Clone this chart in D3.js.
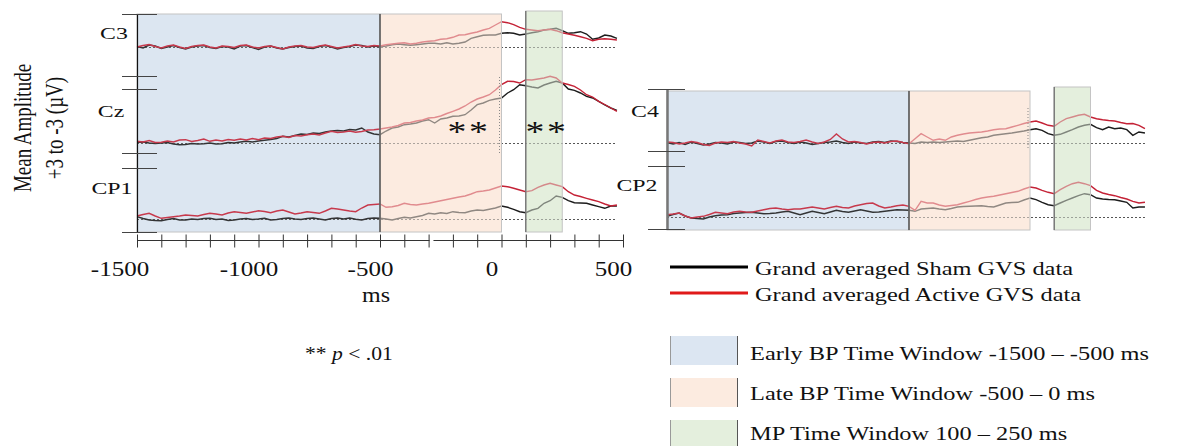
<!DOCTYPE html>
<html>
<head>
<meta charset="utf-8">
<script src="https://cdn.jsdelivr.net/npm/d3@7"></script>
<style>
body { margin: 0; background: #fff; }
text { font-family: "Liberation Serif", "Times New Roman", serif; fill: #111; }
</style>
</head>
<body>
<script>
// sample grid in ms (25 ms steps), one value per step in each series below (µV)
var times = d3.range(-1500, 500, 25);

var c3Active = [0.0, 0.15, 0.25, 0.05, -0.1, 0.1, 0.2, 0.0, -0.15, 0.05, 0.15, 0.2, 0.0, -0.1, 0.1, 0.05, -0.05, 0.15, 0.2, 0.0,
	-0.1, 0.05, 0.1, -0.05, -0.2, 0.0, 0.1, 0.15, 0.0, -0.05, 0.1, 0.2, 0.05, -0.1, 0.0, 0.1, 0.25, 0.1, 0.05, 0.15,
	0.1, 0.23, 0.3, 0.37, 0.43, 0.3, 0.37, 0.5, 0.57, 0.63, 0.77, 0.83, 0.97, 1.2, 1.23, 1.37, 1.5, 1.7, 1.87, 2.2,
	2.53, 2.43, 2.23, 1.97, 1.77, 1.7, 1.63, 1.7, 1.77, 1.63, 1.43, 1.3, 1.17, 1.03, 0.87, 0.63, 0.77, 0.83, 0.77, 0.7];
var c3Sham = [0.05, -0.1, 0.2, 0.1, -0.15, 0.0, 0.15, -0.05, -0.2, 0.0, 0.1, 0.15, -0.05, -0.15, 0.05, 0.0, -0.2, 0.1, 0.15, -0.05,
	-0.25, 0.0, 0.1, -0.1, -0.2, -0.05, 0.05, 0.1, -0.1, -0.15, 0.05, 0.15, 0.0, -0.2, -0.05, 0.05, 0.2, 0.15, 0.0, 0.1,
	0.03, 0.1, 0.23, 0.3, 0.23, 0.17, 0.23, 0.3, 0.37, 0.37, 0.3, 0.43, 0.3, 0.37, 0.5, 0.87, 1.03, 1.17, 1.2, 1.2,
	1.37, 1.43, 1.37, 1.2, 1.3, 1.43, 1.53, 1.7, 1.77, 1.87, 1.63, 1.37, 1.43, 1.53, 1.3, 0.77, 0.9, 1.2, 1.1, 0.87];

var czActive = [0.17, 0.1, 0.25, 0.05, 0.07, 0.2, 0.1, 0.3, 0.33, 0.15, 0.25, 0.4, 0.17, 0.3, 0.2, 0.35, 0.27, 0.4, 0.3, 0.45,
	0.33, 0.5, 0.45, 0.6, 0.67, 0.55, 0.75, 0.7, 0.83, 0.9, 0.8, 1.0, 1.17, 1.05, 1.1, 1.2, 1.07, 1.15, 1.3, 1.33,
	1.4, 1.5, 1.6, 1.75, 2.0, 2.05, 2.2, 2.3, 2.5, 2.55, 2.7, 2.95, 3.17, 3.4, 3.7, 4.1, 4.4, 4.6, 4.83, 5.3,
	5.83, 6.17, 6.15, 6.0, 6.33, 6.3, 6.4, 6.5, 6.67, 6.5, 6.0, 5.85, 5.67, 5.3, 4.83, 4.6, 4.17, 3.85, 3.5, 3.17];
var czSham = [0.07, 0.1, 0.0, -0.05, 0.0, 0.05, -0.1, -0.17, -0.15, -0.05, -0.1, -0.07, 0.0, -0.1, -0.07, 0.05, 0.0, 0.1, 0.17, 0.1,
	0.2, 0.27, 0.35, 0.45, 0.67, 0.6, 0.75, 0.9, 0.85, 1.0, 0.95, 1.1, 1.2, 1.25, 1.2, 1.35, 1.3, 1.5, 1.1, 0.9,
	0.83, 1.2, 1.5, 1.6, 1.83, 1.9, 2.0, 2.2, 2.33, 2.0, 2.4, 2.5, 2.67, 2.7, 2.83, 3.3, 3.83, 4.0, 4.27, 4.4,
	4.5, 5.0, 5.33, 5.83, 5.73, 5.6, 5.5, 5.8, 6.0, 6.17, 6.0, 5.4, 5.27, 5.0, 4.67, 4.5, 4.17, 3.8, 3.5, 3.27];

var cp1Active = [0.3, 0.45, 0.57, 0.3, 0.07, 0.15, 0.23, 0.3, 0.4, 0.35, 0.3, 0.45, 0.57, 0.5, 0.4, 0.6, 0.73, 0.65, 0.57, 0.7,
	0.83, 0.75, 0.63, 0.8, 0.9, 0.7, 0.5, 0.6, 0.73, 0.65, 0.57, 0.8, 1.07, 1.0, 0.9, 0.8, 0.73, 1.1, 1.4, 1.45,
	1.5, 1.17, 1.23, 1.35, 1.57, 1.45, 1.4, 1.5, 1.57, 1.7, 1.83, 1.95, 2.07, 2.2, 2.3, 2.5, 2.73, 2.8, 2.9, 3.1,
	3.3, 3.23, 3.07, 2.9, 2.73, 2.83, 3.17, 3.4, 3.57, 3.4, 3.23, 2.73, 2.4, 2.25, 2.07, 1.9, 1.73, 1.5, 1.3, 1.4];
var cp1Sham = [0.23, 0.05, -0.1, -0.15, -0.17, -0.05, 0.05, -0.1, -0.1, 0.0, -0.05, 0.05, 0.07, -0.05, 0.0, -0.15, -0.1, 0.0, 0.05, -0.05,
	0.0, 0.07, -0.1, -0.05, 0.05, 0.1, 0.0, -0.05, 0.05, 0.1, 0.0, -0.1, 0.05, 0.1, 0.0, 0.1, -0.03, -0.1, 0.05, 0.1,
	0.07, 0.0, -0.1, 0.05, 0.17, 0.1, 0.23, 0.35, 0.57, 0.5, 0.63, 0.55, 0.73, 0.65, 0.63, 0.8, 0.9, 0.85, 0.97, 1.1,
	1.3, 1.17, 0.97, 0.73, 0.63, 0.9, 1.07, 1.57, 1.83, 2.3, 2.17, 1.83, 1.63, 1.6, 1.57, 1.4, 1.23, 1.07, 1.3, 1.3];

var c4Active = [0.1, 0.05, -0.1, 0.0, 0.15, 0.05, -0.15, -0.25, 0.0, 0.1, 0.05, 0.15, 0.0, -0.1, -0.3, 0.3, 0.15, 0.0, 0.2, 0.3,
	0.1, 0.05, 0.15, 0.3, 0.1, -0.05, 0.1, 0.35, 0.9, 0.4, 0.1, 0.15, 0.05, -0.1, 0.05, 0.1, 0.0, 0.15, 0.2, 0.05,
	-0.07, 0.43, 0.93, 0.6, 0.27, 0.4, 0.27, 0.6, 0.77, 0.9, 1.0, 1.05, 1.1, 1.2, 1.33, 1.4, 1.43, 1.6, 1.77, 1.95,
	2.1, 2.2, 2.0, 1.77, 1.67, 2.1, 2.43, 2.6, 2.77, 2.87, 2.6, 2.43, 2.33, 2.25, 2.2, 2.05, 1.93, 1.95, 1.77, 1.43];
var c4Sham = [0.05, -0.1, 0.05, -0.15, 0.1, -0.05, -0.2, -0.1, 0.05, 0.0, -0.1, 0.1, 0.05, -0.05, 0.0, 0.2, 0.1, -0.05, 0.15, 0.2,
	0.05, -0.05, 0.1, 0.0, -0.15, -0.05, 0.05, 0.1, 0.2, 0.05, -0.05, 0.1, 0.0, -0.05, 0.1, 0.15, 0.05, 0.2, 0.15, 0.05,
	0.0, -0.05, 0.1, 0.05, 0.1, 0.05, 0.1, 0.15, 0.2, 0.15, 0.27, 0.4, 0.53, 0.6, 0.77, 0.85, 0.93, 1.0, 1.1, 1.2,
	1.33, 1.43, 1.27, 0.93, 0.77, 0.87, 1.1, 1.33, 1.6, 1.77, 1.87, 1.53, 1.33, 1.6, 1.43, 1.5, 1.33, 0.77, 1.1, 1.0];

var cp2Active = [0.23, 0.3, 0.4, 0.1, -0.1, 0.0, 0.07, 0.25, 0.47, 0.4, 0.33, 0.5, 0.57, 0.5, 0.47, 0.6, 0.73, 0.85, 0.9, 0.8,
	0.73, 0.8, 0.8, 0.9, 1.0, 0.9, 0.8, 0.95, 1.07, 0.95, 0.9, 1.1, 1.23, 1.35, 1.4, 1.1, 0.9, 1.0, 1.13, 1.2,
	1.07, 0.67, 1.57, 1.4, 1.4, 1.2, 1.07, 1.15, 1.23, 1.4, 1.57, 1.75, 1.9, 2.0, 2.07, 2.2, 2.33, 2.45, 2.57, 2.8,
	3.0, 2.9, 2.67, 2.47, 2.33, 2.73, 3.07, 3.33, 3.47, 3.33, 3.13, 2.67, 2.4, 2.25, 2.13, 1.95, 1.8, 1.57, 1.4, 1.47];
var cp2Sham = [0.07, 0.25, 0.4, 0.1, -0.1, -0.15, -0.2, 0.0, 0.13, 0.2, 0.23, 0.35, 0.4, 0.45, 0.47, 0.4, 0.33, 0.35, 0.4, 0.5,
	0.57, 0.4, 0.23, 0.4, 0.57, 0.45, 0.33, 0.5, 0.67, 0.55, 0.47, 0.6, 0.73, 0.6, 0.47, 0.5, 0.57, 0.65, 0.73, 0.7,
	0.67, 0.57, 0.8, 0.85, 0.9, 0.8, 0.73, 0.85, 1.0, 1.05, 1.07, 1.1, 1.13, 1.05, 1.0, 1.2, 1.4, 1.45, 1.47, 1.7,
	1.9, 1.73, 1.47, 1.23, 1.13, 1.4, 1.67, 1.9, 2.13, 2.33, 2.23, 1.9, 1.8, 1.75, 1.73, 1.6, 1.47, 0.9, 1.0, 1.0];

var windowNames = ["early", "late", "mp"];
var windowStarts = [-1500, -500, 100];
var windowEnds = [-500, 0, 250];
var windowLabels = ["Early BP Time Window -1500 \u2013 -500 ms", "Late BP Time Window -500 \u2013 0 ms", "MP Time Window 100 \u2013 250 ms"];
var seriesLabels = ["Grand averaged Sham GVS data", "Grand averaged Active GVS data"];
var xTickValues = d3.range(-1500, 501, 100);
var xTickLabels = [-1500, -1000, -500, 0, 500];

var winFill = {early: "#dce6f2", late: "#fcebe0", mp: "#e4efdd"};
var winOver = {early: 0.12, late: 0.52, mp: 0.5};
var shamColor = "#1c1c1c", activeColor = "#c42236";

var svg = d3.select("body").append("svg")
	.attr("width", 1194)
	.attr("height", 446)
	.style("display", "block");

function stretchText(sel, x, y, txt, size, sx, anchor) {
	return sel.append("text")
		.attr("transform", "translate(" + x + "," + y + ") scale(" + sx + ",1)")
		.attr("text-anchor", anchor || "start")
		.attr("font-size", size)
		.text(txt);
}

var panels = [
	{
		x: d3.scaleLinear().domain([-1500, 500]).range([137, 623]),
		top: 14, mpTop: 11, bottom: 232,
		channels: [
			{name: "C3", base: 47, sham: c3Sham, active: c3Active, lx: 114, ly: 39},
			{name: "Cz", base: 143, sham: czSham, active: czActive, lx: 111, ly: 117},
			{name: "CP1", base: 219, sham: cp1Sham, active: cp1Active, lx: 112, ly: 194}
		],
		ticks: [14, 76, 89, 153, 168, 232], axisX: 137.5, tickX: [122, 157]
	},
	{
		x: d3.scaleLinear().domain([-1500, 500]).range([667, 1151]),
		top: 91, mpTop: 87, bottom: 230,
		channels: [
			{name: "C4", base: 143, sham: c4Sham, active: c4Active, lx: 645, ly: 117},
			{name: "CP2", base: 217, sham: cp2Sham, active: cp2Active, lx: 637, ly: 191}
		],
		ticks: [89, 151, 166, 229], axisX: 667.5, tickX: [648, 685]
	}
];

panels.forEach(function(p, pi) {
	var g = svg.append("g");
	var x = p.x;
	var wins = windowNames.map(function(n, i) {
		return {name: n, from: windowStarts[i], to: windowEnds[i]};
	});

	function drawWins(layer, overlay) {
		layer.selectAll("rect")
			.data(wins)
			.enter().append("rect")
				.attr("x", function(d) { return x(d.from); })
				.attr("y", function(d) { return d.name == "mp" ? p.mpTop : p.top; })
				.attr("width", function(d) { return x(d.to) - x(d.from); })
				.attr("height", function(d) { return p.bottom - (d.name == "mp" ? p.mpTop : p.top); })
				.style("fill", function(d) { return winFill[d.name]; })
				.style("fill-opacity", function(d) { return overlay ? winOver[d.name] : 1; })
				.style("stroke", overlay ? "#c4c4c4" : "none")
				.style("stroke-width", 1);
	}
	drawWins(g.append("g"), false);

	var lines = g.append("g");
	p.channels.forEach(function(ch) {
		var y = d3.scaleLinear().domain([-3, 3]).range([ch.base + 30, ch.base - 30]);
		lines.append("line")
			.attr("x1", x(-1500)).attr("x2", x(475))
			.attr("y1", y(0) + 0.5).attr("y2", y(0) + 0.5)
			.style("stroke", "#555")
			.style("stroke-width", 1)
			.style("stroke-dasharray", "2,2");
		var line = d3.line()
			.x(function(d, i) { return x(times[i]); })
			.y(function(d) { return y(d); })
			.curve(d3.curveLinear);
		lines.append("path").datum(ch.sham)
			.attr("d", line)
			.style("fill", "none").style("stroke", shamColor).style("stroke-width", 1.4);
		lines.append("path").datum(ch.active)
			.attr("d", line)
			.style("fill", "none").style("stroke", activeColor).style("stroke-width", 1.4);
		stretchText(g, ch.lx, ch.ly, ch.name, 17, 1.4, "middle");
	});

	drawWins(g.append("g"), true);

	// window boundaries
	g.append("line")
		.attr("x1", x(-500)).attr("x2", x(-500))
		.attr("y1", p.top).attr("y2", p.bottom)
		.style("stroke", "#333").style("stroke-width", 1.2);
	g.append("line")
		.attr("x1", x(100)).attr("x2", x(100))
		.attr("y1", p.mpTop).attr("y2", p.bottom)
		.style("stroke", "#666").style("stroke-width", 1.2);
	g.append("line")
		.attr("x1", x(0) - 2).attr("x2", x(0) - 2)
		.attr("y1", pi == 0 ? 77 : 108).attr("y2", pi == 0 ? 155 : 150)
		.style("stroke", "#888").style("stroke-width", 1)
		.style("stroke-dasharray", "1,2");

	// y axis with broken channel ticks
	g.append("line")
		.attr("x1", p.axisX).attr("x2", p.axisX)
		.attr("y1", p.ticks[0]).attr("y2", p.ticks[p.ticks.length - 1])
		.style("stroke", pi == 0 ? "#111" : "#777")
		.style("stroke-width", pi == 0 ? 1.2 : 2.5);
	g.selectAll(".ytick")
		.data(p.ticks)
		.enter().append("line")
			.attr("x1", p.tickX[0]).attr("x2", p.tickX[1])
			.attr("y1", function(d) { return d + 0.5; })
			.attr("y2", function(d) { return d + 0.5; })
			.style("stroke", "#444").style("stroke-width", 1.2);
});

// x axis (left panel only)
var xl = panels[0].x;
var axis = d3.axisBottom(xl)
	.tickValues(xTickValues)
	.tickSize(7)
	.tickFormat(function(d) { return xTickLabels.indexOf(d) >= 0 ? d : ""; });
var axG = svg.append("g")
	.attr("transform", "translate(0,240.5)")
	.call(axis);
axG.select(".domain").remove();
axG.selectAll(".tick line")
	.attr("y1", -6)
	.attr("y2", 7)
	.style("stroke", "#333");
axG.selectAll(".tick text")
	.attr("y", 36)
	.attr("dy", 0)
	.attr("transform", function(d) { return "scale(1.25,1) translate(" + (d == -1500 ? -14 : -8) + ",0)"; })
	.style("font-family", "'Liberation Serif', serif")
	.style("font-size", "20px")
	.style("fill", "#111");
axG.append("line")
	.attr("x1", xl(-1500)).attr("x2", xl(-300) + 1)
	.style("stroke", "#333");
axG.append("line")
	.attr("x1", xl(-280)).attr("x2", xl(500))
	.style("stroke", "#333");
stretchText(svg, 376, 302, "ms", 20, 1.2, "middle");

// y axis title
svg.append("text")
	.attr("transform", "translate(31,128) scale(1.3,1) rotate(-90)")
	.attr("text-anchor", "middle")
	.attr("font-size", 19)
	.text("Mean Amplitude");
svg.append("text")
	.attr("transform", "translate(63,128) scale(1.3,1) rotate(-90)")
	.attr("text-anchor", "middle")
	.attr("font-size", 19)
	.text("+3 to -3 (\u00b5V)");

// significance marks
stretchText(svg, 469, 141, "**", 29, 1.3, "middle").attr("letter-spacing", 2);
stretchText(svg, 547, 141, "**", 29, 1.3, "middle").attr("letter-spacing", 2);

var pNote = svg.append("text")
	.attr("transform", "translate(305,360) scale(1.2,1)")
	.attr("font-size", 18);
pNote.append("tspan").text("** ");
pNote.append("tspan").style("font-style", "italic").text("p");
pNote.append("tspan").text(" < .01");

// legend
var legend = svg.append("g");
legend.selectAll(".lline")
	.data(seriesLabels)
	.enter().append("line")
		.attr("x1", 670).attr("x2", 748)
		.attr("y1", function(d, i) { return 267 + i * 26; })
		.attr("y2", function(d, i) { return 267 + i * 26; })
		.style("stroke", function(d, i) { return i == 0 ? "#000" : "#e01a1a"; })
		.style("stroke-width", 3);
seriesLabels.forEach(function(s, i) {
	stretchText(legend, 755, 275 + i * 26, s, 19.5, 1.25, "start");
});
windowNames.forEach(function(n, i) {
	var y0 = 336 + i * 42;
	legend.append("rect")
		.attr("x", 670).attr("y", y0)
		.attr("width", 67).attr("height", 29)
		.style("fill", winFill[n]);
	legend.append("line")
		.attr("x1", 670.5).attr("x2", 670.5).attr("y1", y0).attr("y2", y0 + 29)
		.style("stroke", "#999");
	legend.append("line")
		.attr("x1", 737.5).attr("x2", 737.5).attr("y1", y0).attr("y2", y0 + 29)
		.style("stroke", "#555");
	stretchText(legend, 750, 360 + i * 40, windowLabels[i], 19.5, 1.25, "start");
});
</script>
</body>
</html>
